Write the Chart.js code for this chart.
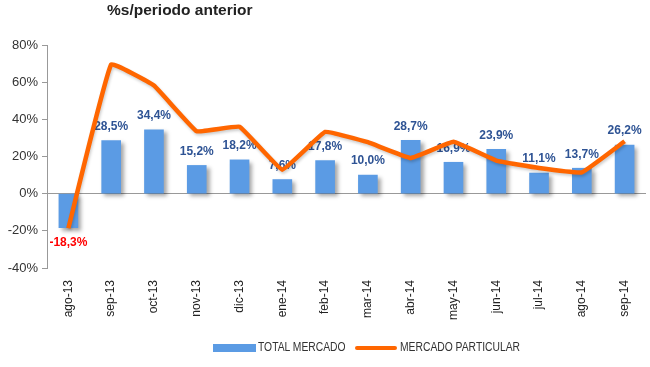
<!DOCTYPE html>
<html>
<head>
<meta charset="utf-8">
<script src="https://cdn.jsdelivr.net/npm/chart.js@4.4.1/dist/chart.umd.min.js"></script>
<style>
    html, body { margin: 0; padding: 0; background: #fff; }
    #wrap { position: relative; width: 650px; height: 367px; }
    #title {
        position: absolute; left: 107px; top: 1px;
        font: bold 15.5px "Liberation Sans", Arial, sans-serif;
        color: #222;
    }
    .lg { position: absolute; }
    .txt {
        font: 12px "Liberation Sans", Arial, sans-serif; color: #333; white-space: nowrap;
        transform: scaleX(0.86); transform-origin: left center; line-height: 14px;
    }
</style>
</head>
<body>
<div id="wrap">
    <canvas id="chart" width="650" height="367"></canvas>
    <div id="title">%s/periodo anterior</div>
    <div class="lg" style="left:213px; top:344px; width:43px; height:8px; background:#5B9BE4;"></div>
    <div class="lg txt" style="left:258px; top:340px;">TOTAL MERCADO</div>
    <div class="lg" style="left:355px; top:346px; width:42px; height:4px; background:#FF6600; border-radius:2px;"></div>
    <div class="lg txt" style="left:400px; top:340px;">MERCADO PARTICULAR</div>
</div>
<script>
const months = ['ago-13', 'sep-13', 'oct-13', 'nov-13', 'dic-13', 'ene-14', 'feb-14',
    'mar-14', 'abr-14', 'may-14', 'jun-14', 'jul-14', 'ago-14', 'sep-14'];
const totalMercado = [-18.3, 28.5, 34.4, 15.2, 18.2, 7.6, 17.8, 10.0, 28.7, 16.9, 23.9, 11.1, 13.7, 26.2];
const mercadoParticular = [-18.6, 69.5, 58.2, 33.6, 36.0, 12.9, 33.2, 27.7, 19.2, 27.9, 17.8, 13.8, 11.5, 28.2];
const yTicks = [-40, -20, 0, 20, 40, 60, 80];

const barStyle = {
    id: 'barStyle',
    beforeDatasetDraw(chart, args) {
        const ctx = chart.ctx;
        ctx.save();
        if (args.index === 0) {
            ctx.shadowColor = 'rgba(0,0,0,0.35)';
            ctx.shadowBlur = 4;
            ctx.shadowOffsetX = 3;
            ctx.shadowOffsetY = 3;
        } else {
            ctx.shadowColor = 'rgba(0,0,0,0.2)';
            ctx.shadowBlur = 3;
            ctx.shadowOffsetX = 1;
            ctx.shadowOffsetY = 2;
        }
    },
    afterDatasetDraw(chart, args) {
        const ctx = chart.ctx;
        ctx.restore();
        if (args.index !== 0) return;
        // value labels sit under the line, so draw them right after the bars
        ctx.save();
        ctx.font = 'bold 12px "Liberation Sans", Arial, sans-serif';
        ctx.textAlign = 'center';
        ctx.textBaseline = 'middle';
        args.meta.data.forEach((el, i) => {
            const v = totalMercado[i];
            const txt = v.toFixed(1).replace('.', ',') + '%';
            if (v < 0) {
                ctx.fillStyle = '#FF0000';
                ctx.fillText(txt, el.x, el.y + 15);
            } else {
                ctx.fillStyle = '#2E5394';
                ctx.fillText(txt, el.x, el.y - 14);
            }
        });
        ctx.restore();
    }
};

const ctx = document.getElementById('chart').getContext('2d');
const chart = new Chart(ctx, {
    type: 'bar',
    data: {
        labels: months,
        datasets: [{
            type: 'bar',
            label: 'TOTAL MERCADO',
            data: totalMercado,
            backgroundColor: '#5B9BE4',
            barThickness: 19,
            order: 1
        }, {
            type: 'line',
            label: 'MERCADO PARTICULAR',
            data: mercadoParticular,
            borderColor: '#FF6600',
            borderWidth: 4.5,
            pointRadius: 0,
            tension: 0.08,
            fill: false,
            order: 0
        }]
    },
    options: {
        responsive: false,
        animation: false,
        layout: { padding: { top: 45, right: 4, bottom: 43, left: 0 } },
        plugins: {
            legend: { display: false },
            tooltip: { enabled: false }
        },
        scales: {
            x: {
                grid: { display: false },
                border: { display: false },
                ticks: {
                    minRotation: 90, maxRotation: 90, padding: 4,
                    color: '#222',
                    font: { family: '"Liberation Sans", Arial, sans-serif', size: 12 }
                },
                afterFit(scale) { scale.height = 56; }
            },
            y: {
                min: -40, max: 80,
                afterBuildTicks(scale) { scale.ticks = yTicks.map(v => ({ value: v })); },
                grid: {
                    color: c => c.tick && c.tick.value === 0 ? '#999' : 'rgba(0,0,0,0)',
                    tickColor: '#999',
                    tickLength: 5
                },
                border: { display: true, color: '#999' },
                ticks: {
                    padding: 4,
                    color: '#333',
                    font: { family: '"Liberation Sans", Arial, sans-serif', size: 13 },
                    callback: v => v + '%'
                },
                afterFit(scale) { scale.width = 47; }
            }
        }
    },
    plugins: [barStyle]
});
</script>
</body>
</html>
